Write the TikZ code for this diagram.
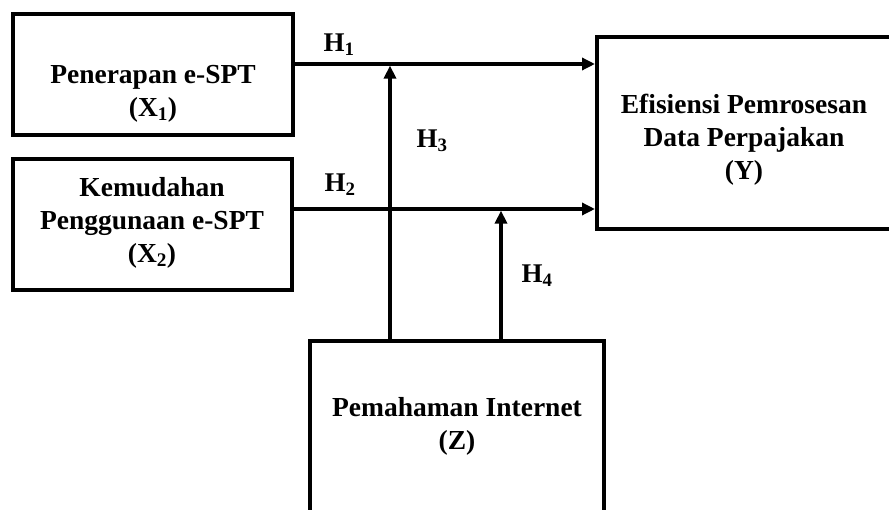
\documentclass[tikz,border=0pt]{standalone}
\usepackage{fontspec}
\setmainfont{Liberation Serif}
\usetikzlibrary{arrows.meta}
\begin{document}
\begin{tikzpicture}[x=1pt,y=-1pt,
  box/.style={draw,line width=4pt,inner sep=0pt},
  lbl/.style={font=\fontsize{27.5}{33}\selectfont\bfseries,align=center,inner sep=0pt},
  hlab/.style={font=\fontsize{27}{30}\selectfont\bfseries,inner sep=0pt},
  conn/.style={line width=3.3pt,-{Triangle[length=13pt,width=12pt]}}]
\useasboundingbox[fill=white] (0,0) rectangle (889,510);
\node[box,minimum width=280pt,minimum height=121pt] (bx1) at (153,74.5) {};
\node[box,minimum width=279pt,minimum height=131pt] (bx2) at (152.5,224.5) {};
\node[box,minimum width=298pt,minimum height=192pt] (by) at (746,133) {};
\node[box,minimum width=294pt,minimum height=179pt] (bz) at (457,430.5) {};
\node[lbl] (t1) at (153,94) {Penerapan e-SPT\\(X\textsubscript{1})};
\node[lbl] (t2) at (152,223) {Kemudahan\\Penggunaan e-SPT\\(X\textsubscript{2})};
\node[lbl] (ty) at (744,140) {Efisiensi Pemrosesan\\Data Perpajakan\\(Y)};
\node[lbl] (tz) at (457,426) {Pemahaman Internet\\(Z)};
\coordinate (j1) at (390,65.6);
\coordinate (j2) at (501,210.6);
\draw[conn] (bx1.east |- 0,64) -- (by.west |- 0,64);
\draw[conn] (bx2.east |- 0,209) -- (by.west |- 0,209);
\draw[conn] (bz.north -| j1) -- (j1);
\draw[conn] (bz.north -| j2) -- (j2);
\node[hlab] (h1) at (339,45) {H\textsubscript{1}};
\node[hlab] (h2) at (340,185) {H\textsubscript{2}};
\node[hlab] (h3) at (432,141) {H\textsubscript{3}};
\node[hlab] (h4) at (537,276) {H\textsubscript{4}};
\end{tikzpicture}
\end{document}
